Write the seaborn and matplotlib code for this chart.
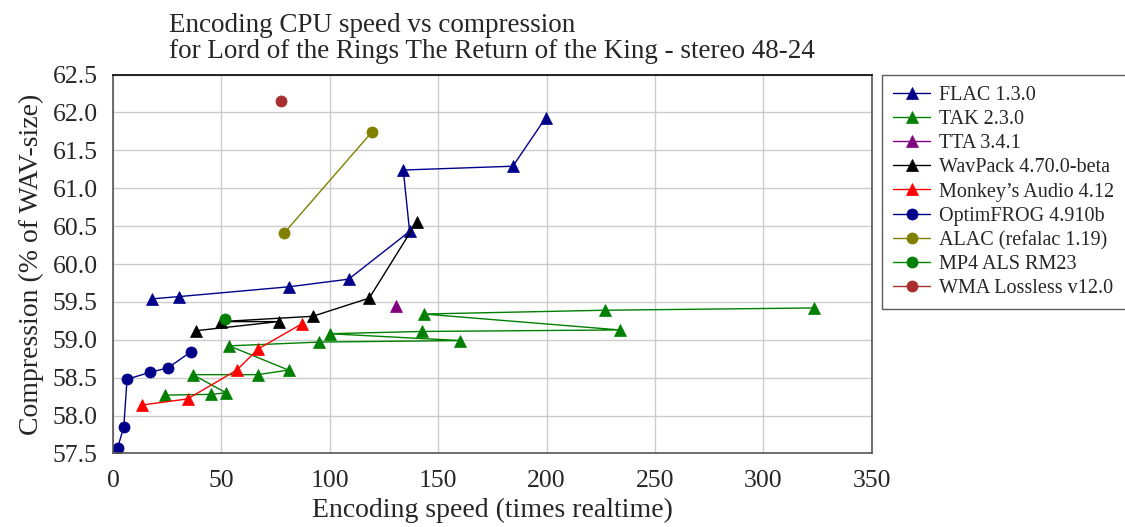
import matplotlib
matplotlib.use("Agg")
import matplotlib.pyplot as plt
import seaborn as sns

# ---------------------------------------------------------
# Data (speed = times realtime, ratio = % of WAV)
# ---------------------------------------------------------
flac_speed = [17.8, 30.5, 81.4, 108.7, 136.8, 133.9, 184.4, 199.6]
flac_ratio = [59.54, 59.57, 59.70, 59.80, 60.43, 61.24, 61.29, 61.93]

tak_speed = [24.0, 45.0, 52.2, 36.8, 66.7, 81.0, 53.6, 95.1, 160.2,
             99.9, 142.4, 233.7, 143.4, 226.8, 323.2]
tak_ratio = [58.27, 58.28, 58.30, 58.54, 58.54, 58.60, 58.92, 58.97, 58.99,
             59.08, 59.11, 59.13, 59.34, 59.39, 59.42]

tta_speed = [130.5]
tta_ratio = [59.44]

wavpack_speed = [38.3, 76.4, 49.6, 92.1, 118.2, 140.2]
wavpack_ratio = [59.12, 59.24, 59.24, 59.31, 59.55, 60.56]

monkey_speed = [13.6, 34.4, 57.1, 67.0, 87.1]
monkey_ratio = [58.14, 58.22, 58.60, 58.88, 59.21]

ofr_speed = [2.1, 5.0, 6.5, 17.0, 25.4, 35.9]
ofr_ratio = [57.57, 57.85, 58.48, 58.57, 58.63, 58.84]

alac_speed = [79.0, 119.4]
alac_ratio = [60.41, 61.74]

als_speed = [51.6]
als_ratio = [59.28]

wma_speed = [77.4]
wma_ratio = [62.15]

series = [
    ("FLAC 1.3.0", flac_speed, flac_ratio, "#00008b", "^"),
    ("TAK 2.3.0", tak_speed, tak_ratio, "#008000", "^"),
    ("TTA 3.4.1", tta_speed, tta_ratio, "#800080", "^"),
    ("WavPack 4.70.0-beta", wavpack_speed, wavpack_ratio, "#000000", "^"),
    ("Monkey\u2019s Audio 4.12", monkey_speed, monkey_ratio, "#ff0000", "^"),
    ("OptimFROG 4.910b", ofr_speed, ofr_ratio, "#00008b", "o"),
    ("ALAC (refalac 1.19)", alac_speed, alac_ratio, "#808000", "o"),
    ("MP4 ALS RM23", als_speed, als_ratio, "#008000", "o"),
    ("WMA Lossless v12.0", wma_speed, wma_ratio, "#aa2e2e", "o"),
]

# ---------------------------------------------------------
# Style
# ---------------------------------------------------------
sns.set_style("white")
plt.rcParams["font.family"] = ["Liberation Serif", "DejaVu Serif"]

fig = plt.figure(figsize=(11.25, 5.27), dpi=100)
ax = fig.add_axes([0.1004, 0.1395, 0.6746, 0.7191])

for name, xs, ys, color, mk in series:
    sns.lineplot(
        x=xs, y=ys, ax=ax, sort=False, estimator=None,
        color=color, marker=mk, markersize=8,
        markeredgecolor=color, markeredgewidth=0.5,
        linewidth=1.0, label=name,
    )

ax.set_xlim(0, 350)
ax.set_ylim(57.5, 62.5)
ax.set_xticks(range(0, 351, 50))
ax.set_yticks([57.5 + 0.5 * i for i in range(11)])
ax.set_yticklabels([f"{57.5 + 0.5 * i:.1f}" for i in range(11)])
ax.grid(True, color="#cccccc", linewidth=1.0)
ax.set_axisbelow(True)
ax.tick_params(axis="both", length=0, labelsize=18.5)
ax.tick_params(axis="x", pad=12)
ax.tick_params(axis="y", pad=11)

for side in ax.spines.values():
    side.set_color("#555555")
    side.set_linewidth(1.2)
ax.spines["top"].set_color("#000000")

ax.set_xlabel("Encoding speed (times realtime)", fontsize=20, labelpad=4)
ax.set_ylabel("Compression (% of WAV-size)", fontsize=20, labelpad=6)
ax.set_title(
    "Encoding CPU speed vs compression\n"
    "for Lord of the Rings The Return of the King - stereo 48-24",
    fontsize=19.5, ma="left", pad=12, linespacing=1.05,
)

leg = ax.legend(
    loc="upper left", bbox_to_anchor=(0.784, 0.858),
    bbox_transform=fig.transFigure, borderaxespad=0,
    fontsize=14.5, frameon=True, fancybox=False, handlelength=1.85,
    handletextpad=0.45, labelspacing=0.25, borderpad=0.55,
)
leg.get_frame().set_edgecolor("#333333")
leg.get_frame().set_linewidth(1.0)

fig.savefig("out.png", dpi=100)
